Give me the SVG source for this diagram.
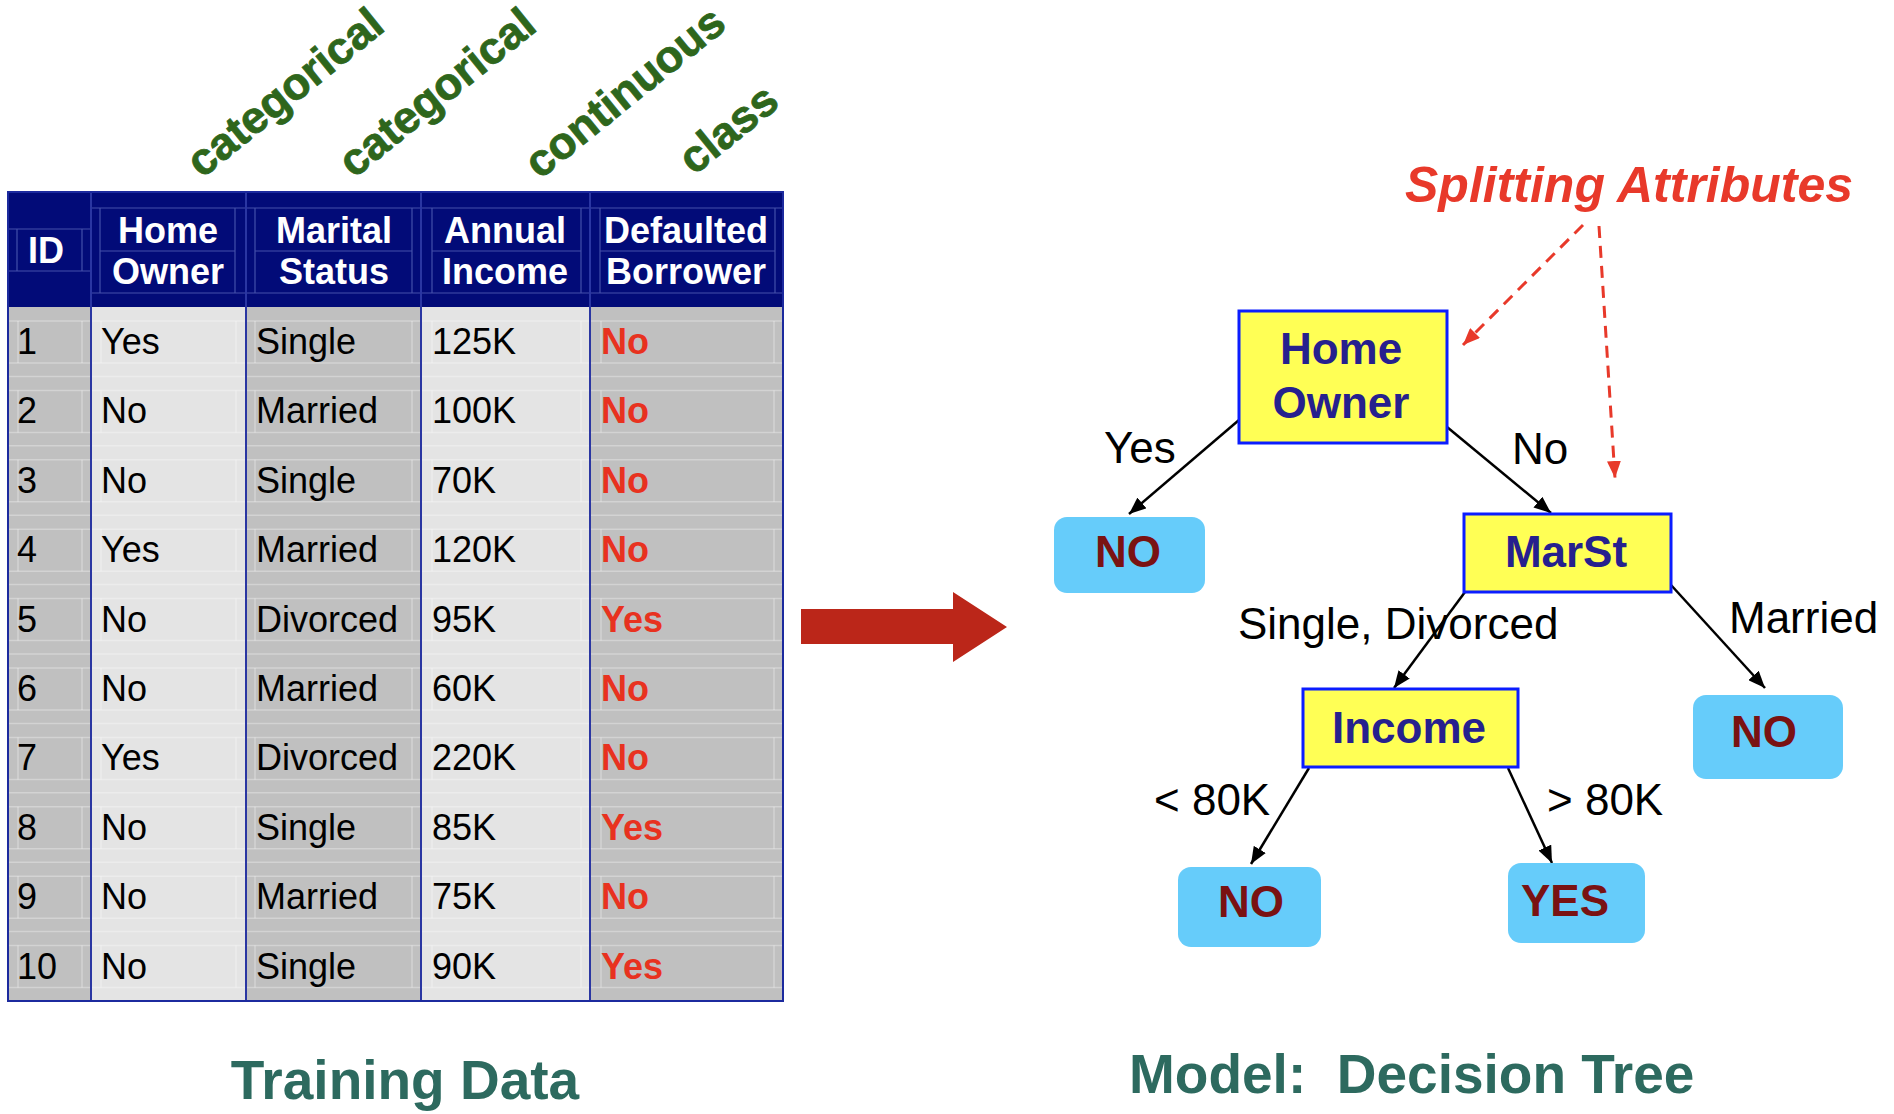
<svg xmlns="http://www.w3.org/2000/svg" width="1894" height="1114" viewBox="0 0 1894 1114">
<defs>
<style>
.hd{font-family:"Liberation Sans",Arial,sans-serif;font-weight:bold;font-size:36px;fill:#ffffff;text-anchor:middle}
.td{font-family:"Liberation Sans",Arial,sans-serif;font-size:36px;fill:#000000}
.cls{font-family:"Liberation Sans",Arial,sans-serif;font-size:36px;font-weight:bold;fill:#e8321f}
.grn{font-family:"Liberation Sans",Arial,sans-serif;font-size:45px;font-weight:bold;fill:#2e661c;stroke:#2e661c;stroke-width:0.8}
.foot{font-family:"Liberation Sans",Arial,sans-serif;font-size:55px;font-weight:bold;fill:#2d6a5f;white-space:pre}
.dn{fill:#ffff55;stroke:#0b1dff;stroke-width:3}
.dt{font-family:"Liberation Sans",Arial,sans-serif;font-size:44px;font-weight:bold;fill:#26208e;text-anchor:middle}
.lf{fill:#66ccfa}
.lt{font-family:"Liberation Sans",Arial,sans-serif;font-size:44px;font-weight:bold;fill:#7a1212;text-anchor:middle}
.el{font-family:"Liberation Sans",Arial,sans-serif;font-size:44px;fill:#000000}
.edge{stroke:#000000;stroke-width:2.5;fill:none;marker-end:url(#ah)}
.dash{stroke:#e8392a;stroke-width:3;fill:none;stroke-dasharray:12 8;marker-end:url(#ahr)}
.hl{stroke:#4450aa;stroke-width:1.2}
.sl{stroke:#ffffff;stroke-opacity:0.3;stroke-width:1.5}
</style>
<marker id="ah" markerUnits="userSpaceOnUse" markerWidth="18" markerHeight="14" refX="17" refY="7" orient="auto"><path d="M0,0 L17,7 L0,14 z" fill="#000000"/></marker>
<marker id="ahr" markerUnits="userSpaceOnUse" markerWidth="18" markerHeight="14" refX="17" refY="7" orient="auto"><path d="M0,0 L17,7 L0,14 z" fill="#e8392a"/></marker>
</defs>
<rect width="1894" height="1114" fill="#ffffff"/>

<g id="type-labels">
<text class="grn" transform="translate(202,179) rotate(-39)">categorical</text>
<text class="grn" transform="translate(354,179) rotate(-39)">categorical</text>
<text class="grn" transform="translate(540,180) rotate(-39)">continuous</text>
<text class="grn" transform="translate(694,176) rotate(-39)">class</text>
</g>

<g id="training-table">
<rect x="8" y="192" width="775" height="115" fill="#020b78"/>
<rect x="8" y="307" width="83" height="694" fill="#c0c0c0"/>
<rect x="91" y="307" width="155" height="694" fill="#e4e4e4"/>
<rect x="246" y="307" width="175" height="694" fill="#c0c0c0"/>
<rect x="421" y="307" width="169" height="694" fill="#e4e4e4"/>
<rect x="590" y="307" width="193" height="694" fill="#c0c0c0"/>
<g class="hl">
<line x1="8" y1="229" x2="91" y2="229"/><line x1="8" y1="271" x2="91" y2="271"/>
<line x1="17" y1="229" x2="17" y2="271"/><line x1="82" y1="229" x2="82" y2="271"/>
<line x1="91" y1="208" x2="783" y2="208"/><line x1="91" y1="293" x2="783" y2="293"/>
<line x1="100" y1="251" x2="235" y2="251"/><line x1="255" y1="251" x2="412" y2="251"/>
<line x1="432" y1="251" x2="581" y2="251"/><line x1="600" y1="251" x2="775" y2="251"/>
<line x1="100" y1="208" x2="100" y2="293"/><line x1="235" y1="208" x2="235" y2="293"/>
<line x1="255" y1="208" x2="255" y2="293"/><line x1="412" y1="208" x2="412" y2="293"/>
<line x1="432" y1="208" x2="432" y2="293"/><line x1="581" y1="208" x2="581" y2="293"/>
<line x1="600" y1="208" x2="600" y2="293"/><line x1="775" y1="208" x2="775" y2="293"/>
</g>
<g class="sl">
<path d="M8,321H783M8,363H783M8,376.4H783M8,390.4H783M8,432.4H783M8,445.8H783M8,459.8H783M8,501.8H783M8,515.2H783M8,529.2H783M8,571.2H783M8,584.6H783M8,598.6H783M8,640.6H783M8,654H783M8,668H783M8,710H783M8,723.4H783M8,737.4H783M8,779.4H783M8,792.8H783M8,806.8H783M8,848.8H783M8,862.2H783M8,876.2H783M8,918.2H783M8,931.6H783M8,945.6H783M8,987.6H783"/>
<path stroke-dasharray="42 27.4" d="M18,321V1001M82,321V1001M101,321V1001M236,321V1001M255,321V1001M412,321V1001M432,321V1001M581,321V1001M601,321V1001M774,321V1001"/>
</g>
<g stroke="#2a36a2" stroke-width="2">
<line x1="91" y1="192" x2="91" y2="1001"/><line x1="246" y1="192" x2="246" y2="1001"/>
<line x1="421" y1="192" x2="421" y2="1001"/><line x1="590" y1="192" x2="590" y2="1001"/>
</g>
<rect x="8" y="192" width="775" height="809" fill="none" stroke="#1c2a9e" stroke-width="2"/>
<text class="hd" x="46" y="263">ID</text>
<text class="hd" x="168" y="243">Home</text><text class="hd" x="168" y="284">Owner</text>
<text class="hd" x="334" y="243">Marital</text><text class="hd" x="334" y="284">Status</text>
<text class="hd" x="505" y="243">Annual</text><text class="hd" x="505" y="284">Income</text>
<text class="hd" x="686" y="243">Defaulted</text><text class="hd" x="686" y="284">Borrower</text>
<g class="td">
<text x="17" y="354">1</text><text x="101" y="354">Yes</text><text x="256" y="354">Single</text><text x="432" y="354">125K</text>
<text x="17" y="423.4">2</text><text x="101" y="423.4">No</text><text x="256" y="423.4">Married</text><text x="432" y="423.4">100K</text>
<text x="17" y="492.8">3</text><text x="101" y="492.8">No</text><text x="256" y="492.8">Single</text><text x="432" y="492.8">70K</text>
<text x="17" y="562.2">4</text><text x="101" y="562.2">Yes</text><text x="256" y="562.2">Married</text><text x="432" y="562.2">120K</text>
<text x="17" y="631.6">5</text><text x="101" y="631.6">No</text><text x="256" y="631.6">Divorced</text><text x="432" y="631.6">95K</text>
<text x="17" y="701">6</text><text x="101" y="701">No</text><text x="256" y="701">Married</text><text x="432" y="701">60K</text>
<text x="17" y="770.4">7</text><text x="101" y="770.4">Yes</text><text x="256" y="770.4">Divorced</text><text x="432" y="770.4">220K</text>
<text x="17" y="839.8">8</text><text x="101" y="839.8">No</text><text x="256" y="839.8">Single</text><text x="432" y="839.8">85K</text>
<text x="17" y="909.2">9</text><text x="101" y="909.2">No</text><text x="256" y="909.2">Married</text><text x="432" y="909.2">75K</text>
<text x="17" y="978.6">10</text><text x="101" y="978.6">No</text><text x="256" y="978.6">Single</text><text x="432" y="978.6">90K</text>
</g>
<g class="cls">
<text x="601" y="354">No</text><text x="601" y="423.4">No</text><text x="601" y="492.8">No</text><text x="601" y="562.2">No</text>
<text x="601" y="631.6">Yes</text><text x="601" y="701">No</text><text x="601" y="770.4">No</text><text x="601" y="839.8">Yes</text>
<text x="601" y="909.2">No</text><text x="601" y="978.6">Yes</text>
</g>
</g>

<g id="big-arrow">
<path d="M801,609 H953 V592 L1007,627 L953,662 V644 H801 Z" fill="#bb2619"/>
</g>

<g id="footers">
<text class="foot" x="405" y="1099" text-anchor="middle">Training Data</text>
<text class="foot" x="1129" y="1093" font-size="55.5">Model:  Decision Tree</text>
</g>

<g id="splitting-attributes">
<text x="1405" y="202" font-family="'Liberation Sans',Arial,sans-serif" font-size="50" font-weight="bold" font-style="italic" fill="#e8392a">Splitting Attributes</text>
</g>

<g id="edge-labels" class="el">
<text x="1104" y="463">Yes</text>
<text x="1512" y="464">No</text>
<text x="1238" y="639">Single, Divorced</text>
<text x="1729" y="633">Married</text>
<text x="1154" y="815">&lt; 80K</text>
<text x="1547" y="815">&gt; 80K</text>
</g>

<g id="connectors">
<line class="edge" x1="1239" y1="420" x2="1129" y2="514"/>
<line class="edge" x1="1447" y1="427" x2="1551" y2="513"/>
<line class="edge" x1="1465" y1="592" x2="1394" y2="688"/>
<line class="edge" x1="1671" y1="585" x2="1765" y2="688"/>
<line class="edge" x1="1309" y1="768" x2="1251" y2="864"/>
<line class="edge" x1="1508" y1="768" x2="1552" y2="863"/>
<line class="dash" x1="1583" y1="225" x2="1463" y2="345"/>
<line class="dash" x1="1599" y1="226" x2="1615" y2="478"/>
</g>

<g id="node-home-owner">
<rect class="dn" x="1239" y="311" width="208" height="132"/>
<text class="dt" x="1341" y="364">Home</text>
<text class="dt" x="1341" y="418">Owner</text>
</g>
<g id="node-marst">
<rect class="dn" x="1464" y="514" width="207" height="78"/>
<text class="dt" x="1566" y="567">MarSt</text>
</g>
<g id="node-income">
<rect class="dn" x="1303" y="689" width="215" height="78"/>
<text class="dt" x="1409" y="743">Income</text>
</g>
<g id="leaf-no-1">
<rect class="lf" x="1054" y="517" width="151" height="76" rx="13"/>
<text class="lt" x="1128" y="567">NO</text>
</g>
<g id="leaf-no-2">
<rect class="lf" x="1693" y="695" width="150" height="84" rx="13"/>
<text class="lt" x="1764" y="747">NO</text>
</g>
<g id="leaf-no-3">
<rect class="lf" x="1178" y="867" width="143" height="80" rx="13"/>
<text class="lt" x="1251" y="917">NO</text>
</g>
<g id="leaf-yes">
<rect class="lf" x="1508" y="863" width="137" height="80" rx="13"/>
<text class="lt" x="1565" y="916">YES</text>
</g>
</svg>
